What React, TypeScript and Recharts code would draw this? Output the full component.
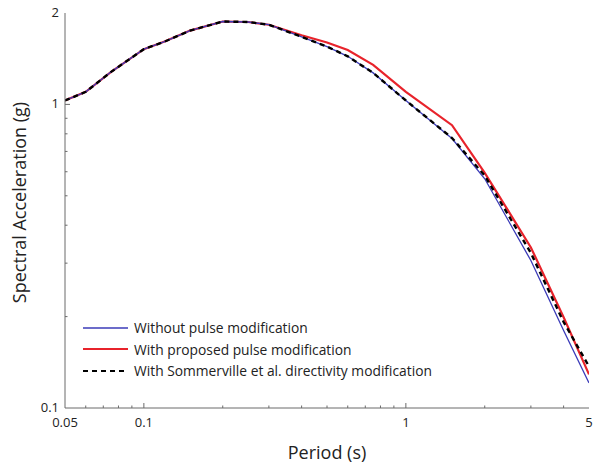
import { LineChart, Line, XAxis, YAxis, Legend } from "recharts"

const periods = [0.05, 0.06, 0.075, 0.1, 0.12, 0.15, 0.2, 0.25, 0.3, 0.4, 0.5, 0.6, 0.75, 1, 1.5, 2, 3, 4, 5]
const withoutPulse = [1.03, 1.1, 1.28, 1.52, 1.61, 1.75, 1.875, 1.868, 1.83, 1.67, 1.55, 1.44, 1.27, 1.03, 0.772, 0.569, 0.306, 0.18, 0.121]
const proposedPulse = [1.03, 1.1, 1.28, 1.52, 1.61, 1.75, 1.875, 1.868, 1.83, 1.69, 1.6, 1.51, 1.35, 1.1, 0.854, 0.595, 0.338, 0.199, 0.129]
const sommerville = [1.03, 1.1, 1.28, 1.52, 1.61, 1.75, 1.875, 1.868, 1.83, 1.67, 1.55, 1.44, 1.27, 1.03, 0.775, 0.583, 0.324, 0.192, 0.137]

const xTicks = [0.05, 0.06, 0.07, 0.08, 0.09, 0.1, 0.2, 0.3, 0.4, 0.5, 0.6, 0.7, 0.8, 0.9, 1, 2, 3, 4, 5]
const yTicks = [0.1, 0.2, 0.3, 0.4, 0.5, 0.6, 0.7, 0.8, 0.9, 1, 2]
const xLabels = [0.05, 0.1, 1, 5]
const yLabels = [0.1, 1, 2]
const majors = [0.1, 1]

const seriesNames = [
  "Without pulse modification",
  "With proposed pulse modification",
  "With Sommerville et al. directivity modification",
]

const data = periods.map((p, i) => ({
  period: p,
  without: withoutPulse[i],
  proposed: proposedPulse[i],
  sommerville: sommerville[i],
}))

const FONT = "'Open Sans', sans-serif"
const AXIS = "#6b6b6b"
const BLUE = "#3b3bb8"
const RED = "#e8232b"

const edge = (v: number, list: number[]) => v === list[0] || v === list[list.length - 1]

function XTick(props: any) {
  const { x, y, payload, side } = props
  const v = payload.value
  const len = majors.includes(v) ? 5 : 2.5
  const dir = side === "top" ? 1 : -1
  return (
    <g>
      {!edge(v, xTicks) && <line x1={x} x2={x} y1={y} y2={y + dir * len} stroke={AXIS} strokeWidth={1} />}
      {side === "bottom" && xLabels.includes(v) && (
        <text x={x} y={y + 19} textAnchor="middle" fontSize={13} fontFamily={FONT} fill="#222">
          {v}
        </text>
      )}
    </g>
  )
}

function YTick(props: any) {
  const { x, y, payload, side } = props
  const v = payload.value
  const len = majors.includes(v) ? 5 : 2.5
  const dir = side === "right" ? -1 : 1
  return (
    <g>
      {!edge(v, yTicks) && <line x1={x} x2={x + dir * len} y1={y} y2={y} stroke={AXIS} strokeWidth={1} />}
      {side === "left" && yLabels.includes(v) && (
        <text x={x - 6} y={y + 3.5} textAnchor="end" fontSize={13} fontFamily={FONT} fill="#222">
          {v}
        </text>
      )}
    </g>
  )
}

function LegendBox() {
  const styles = [
    { stroke: BLUE, width: 1.3, dash: undefined },
    { stroke: RED, width: 2, dash: undefined },
    { stroke: "#000", width: 2.2, dash: "5 4" },
  ]
  return (
    <div style={{ fontFamily: FONT, fontSize: 13.8, color: "#222" }}>
      {seriesNames.map((name, i) => (
        <div key={name} style={{ display: "flex", alignItems: "center", height: 21.5 }}>
          <svg width={52} height={10}>
            <line x1={1} x2={46} y1={5} y2={5} stroke={styles[i].stroke} strokeWidth={styles[i].width} strokeDasharray={styles[i].dash} />
          </svg>
          <span style={{ whiteSpace: "nowrap" }}>{name}</span>
        </div>
      ))}
    </div>
  )
}

function YLabel(props: any) {
  const { viewBox } = props
  const cy = viewBox.y + viewBox.height / 2
  return (
    <text x={0} y={0} transform={`translate(26, ${cy - 8}) rotate(-90)`} textAnchor="middle" fontSize={18} fontFamily={FONT} fill="#222">
      Spectral Acceleration (g)
    </text>
  )
}

export default function App() {
  return (
    <div style={{ position: "absolute", left: 0, top: 0, width: 596, height: 464, background: "#fff" }}>
      <LineChart width={596} height={464} data={data} margin={{ top: 13, right: 7, bottom: 0, left: 0 }}>
        <XAxis
          dataKey="period"
          type="number"
          scale="log"
          domain={[0.05, 5]}
          allowDataOverflow
          ticks={xTicks}
          interval={0}
          tickSize={0}
          tickMargin={0}
          tickLine={false}
          height={56}
          stroke={AXIS}
          tick={(p: any) => <XTick {...p} side="bottom" />}
          label={{ value: "Period (s)", position: "insideBottom", offset: 5, fontSize: 18, fontFamily: FONT, fill: "#222" }}
        />
        <XAxis
          xAxisId="top"
          orientation="top"
          dataKey="period"
          type="number"
          scale="log"
          domain={[0.05, 5]}
          allowDataOverflow
          ticks={xTicks}
          interval={0}
          tickSize={0}
          tickMargin={0}
          tickLine={false}
          height={0}
          stroke={AXIS}
          tick={(p: any) => <XTick {...p} side="top" />}
        />
        <YAxis
          type="number"
          scale="log"
          domain={[0.1, 2]}
          allowDataOverflow
          ticks={yTicks}
          interval={0}
          tickSize={0}
          tickMargin={0}
          tickLine={false}
          width={65}
          stroke={AXIS}
          tick={(p: any) => <YTick {...p} side="left" />}
          label={<YLabel />}
        />
        <YAxis
          yAxisId="right"
          orientation="right"
          type="number"
          scale="log"
          domain={[0.1, 2]}
          allowDataOverflow
          ticks={yTicks}
          interval={0}
          tickSize={0}
          tickMargin={0}
          tickLine={false}
          width={0}
          stroke={AXIS}
          tick={(p: any) => <YTick {...p} side="right" />}
        />
        <Legend
          layout="horizontal"
          verticalAlign="middle"
          align="center"
          content={<LegendBox />}
          wrapperStyle={{ position: "absolute", left: 82, top: 317, width: "auto" }}
        />
        <Line dataKey="proposed" stroke={RED} strokeWidth={2.2} dot={false} isAnimationActive={false} />
        <Line dataKey="without" stroke={BLUE} strokeWidth={1.3} dot={false} isAnimationActive={false} />
        <Line dataKey="sommerville" stroke="#000" strokeWidth={2.4} strokeDasharray="5 4" dot={false} isAnimationActive={false} />
      </LineChart>
    </div>
  )
}
